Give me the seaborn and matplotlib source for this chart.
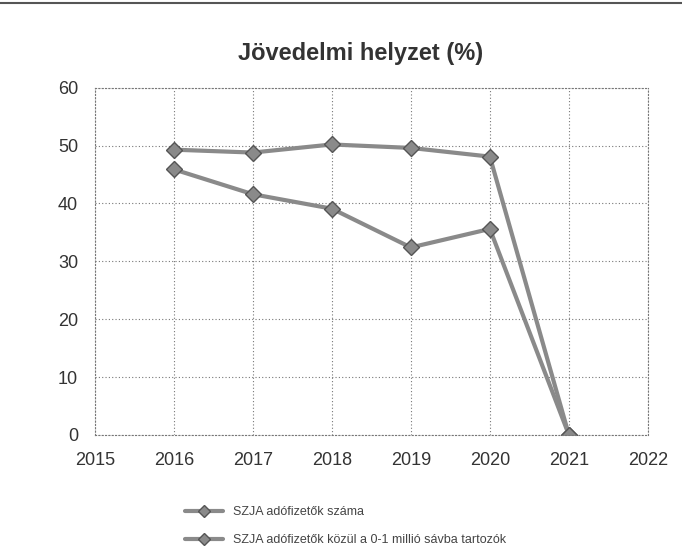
import numpy as np
import pandas as pd
import matplotlib
matplotlib.use("Agg")
import matplotlib.pyplot as plt
import seaborn as sns
from matplotlib.lines import Line2D

years = [2016, 2017, 2018, 2019, 2020, 2021]
szja_total = [49.3, 48.8, 50.2, 49.6, 48.1, 0]
szja_0_1m = [45.9, 41.6, 39.1, 32.4, 35.6, 0]
series_names = ["SZJA adófizetők száma",
                "SZJA adófizetők közül a 0-1 millió sávba tartozók"]
x_ticks = [2015, 2016, 2017, 2018, 2019, 2020, 2021, 2022]
y_ticks = [0, 10, 20, 30, 40, 50, 60]

df = pd.DataFrame({
    "year": years * 2,
    "value": szja_total + szja_0_1m,
    "series": [series_names[0]] * len(years) + [series_names[1]] * len(years),
})

sns.set_theme(style="white")
plt.rcParams["font.family"] = ["Liberation Sans", "DejaVu Sans"]

fig = plt.figure(figsize=(6.82, 5.59), dpi=100)
ax = fig.add_axes([0.139, 0.222, 0.811, 0.621])

gray = "#8a8a8a"
sns.lineplot(data=df, x="year", y="value", hue="series",
             palette=[gray, gray], marker="D", markersize=8,
             markeredgecolor="#555555", markeredgewidth=1.0,
             linewidth=3, legend=False, ax=ax)

ax.set_xlim(2015, 2022)
ax.set_ylim(0, 60)
ax.set_xticks(x_ticks)
ax.set_yticks(y_ticks)
ax.set_xlabel("")
ax.set_ylabel("")
ax.grid(True, linestyle=(0, (1, 2)), color="#777777", linewidth=0.8)
for s in ax.spines.values():
    s.set_linestyle((0, (1, 2)))
    s.set_color("#777777")
    s.set_linewidth(0.8)
ax.tick_params(axis="both", labelsize=13, colors="#333333", length=0, pad=12)

fig.text(0.528, 0.905, "Jövedelmi helyzet (%)", ha="center", va="center",
         fontsize=17, fontweight="bold", color="#333333")

handles = [Line2D([], [], color=gray, linewidth=3, marker="D", markersize=6,
                  markeredgecolor="#555555") for _ in series_names]
fig.legend(handles, series_names, loc="upper left", bbox_to_anchor=(0.255, 0.115),
           frameon=False, fontsize=9, labelspacing=1.3, handlelength=3,
           labelcolor="#444444")

fig.add_artist(Line2D([0, 1], [0.994, 0.994], color="#555555", linewidth=1.5))

fig.savefig("out.png", dpi=100)
